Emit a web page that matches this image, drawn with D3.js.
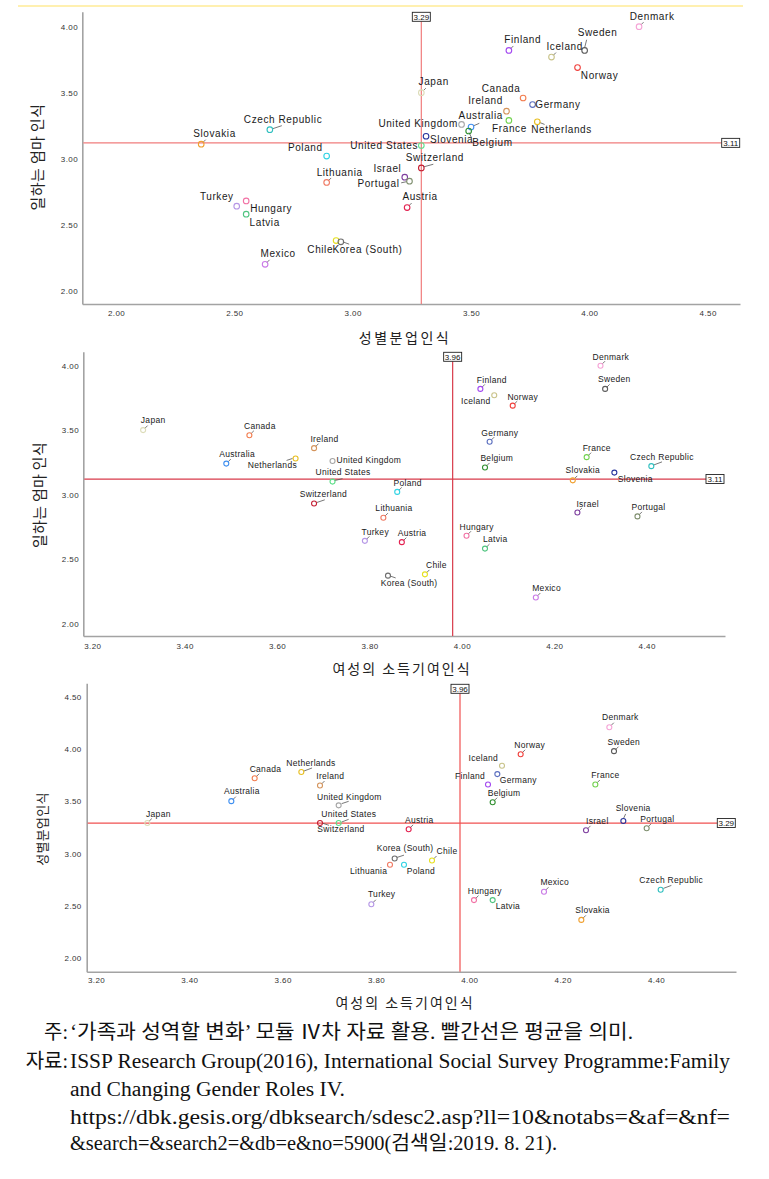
<!DOCTYPE html>
<html><head><meta charset="utf-8">
<script src="https://cdn.jsdelivr.net/npm/d3@7"></script>
<style>body{margin:0;background:#fff} svg{display:block}</style>
</head><body>
<svg id="c" width="769" height="1179"></svg>
<script>
// ---------------- DATA ----------------
const countries = ["Denmark","Sweden","Finland","Iceland","Norway","Japan","Canada","Germany","Ireland","France",
  "Netherlands","United Kingdom","Australia","Belgium","Slovenia","United States","Switzerland","Israel","Portugal","Austria",
  "Slovakia","Czech Republic","Poland","Lithuania","Turkey","Hungary","Latvia","Mexico","Chile","Korea (South)"];
// 성별분업인식
const genderDivision = [4.21,3.98,3.66,3.84,3.95,3.29,3.72,3.76,3.65,3.66,
  3.78,3.46,3.50,3.49,3.31,3.29,3.29,3.22,3.24,3.23,
  2.36,2.65,2.89,2.89,2.51,2.55,2.55,2.63,2.93,2.95];
// 일하는 엄마 인식
const workingMother = [4.00,3.82,3.82,3.77,3.69,3.50,3.46,3.41,3.36,3.29,
  3.28,3.26,3.24,3.21,3.17,3.10,2.93,2.86,2.83,2.63,
  3.11,3.22,3.02,2.82,2.64,2.68,2.58,2.20,2.38,2.37];
// 여성의 소득기여인식
const incomeContribution = [4.30,4.31,4.04,4.07,4.11,3.31,3.54,4.06,3.68,4.27,
  3.64,3.72,3.49,4.05,4.33,3.72,3.68,4.25,4.38,3.87,
  4.24,4.41,3.86,3.83,3.79,4.01,4.05,4.16,3.92,3.84];
const meanValues = {gender:3.29, mother:3.12, income:3.98};
const meanLabels = {gender:"3.29", mother:"3.11", income:"3.96"};
const ticksGenderX = [2.00,2.50,3.00,3.50,4.00,4.50];
const ticksMother = [2.00,2.50,3.00,3.50,4.00];
const ticksIncome = [3.20,3.40,3.60,3.80,4.00,4.20,4.40];
const ticksGenderY = [2.00,2.50,3.00,3.50,4.00,4.50];
const titles = {gender:"성별분업인식", mother:"일하는 엄마 인식", income:"여성의 소득기여인식"};
const noteLines = [
  "‘가족과 성역할 변화’ 모듈 Ⅳ차 자료 활용. 빨간선은 평균을 의미.",
  "ISSP Research Group(2016), International Social Survey Programme:Family",
  "and Changing Gender Roles IV.",
  "https://dbk.gesis.org/dbksearch/sdesc2.asp?ll=10&notabs=&af=&nf=",
  "&search=&search2=&db=e&no=5900(검색일:2019. 8. 21)."
];
const notePrefixes = ["주:", "자료:", "", "", ""];

// ---------------- STYLE ----------------
const countryColors = {
 "Denmark":"#f5a3d6","Sweden":"#5a5a5a","Finland":"#a348f0","Iceland":"#c9c38a","Norway":"#f0403c",
 "Japan":"#dcdcb8","Canada":"#f27d4f","Germany":"#5b6fbf","Ireland":"#d4935a","France":"#72d24f",
 "Netherlands":"#e8bf23","United Kingdom":"#a6a6a6","Australia":"#3f8ff0","Belgium":"#2f8f2f",
 "Slovenia":"#26339c","United States":"#5fe08a","Switzerland":"#c41f33","Israel":"#7e3f9f",
 "Portugal":"#7f8f6f","Austria":"#e3204f","Slovakia":"#f0a030","Czech Republic":"#2fbfbf",
 "Poland":"#2fd3e3","Lithuania":"#f07a63","Turkey":"#b596e6","Hungary":"#f272a5","Latvia":"#4fc47f",
 "Mexico":"#c97ae6","Chile":"#e6e01f","Korea (South)":"#6e6e6e"};

// label layout: [dx, dy, anchor, leader]
const L1 = {
 "Slovakia":[-8,-7,'s'],"Czech Republic":[-26,-7,'s',[3,-1,12,-4]],"Poland":[-4,-5,'e'],"Lithuania":[-10,-6.7,'s'],
 "Turkey":[-3,-6,'e'],"Hungary":[4,11.3,'s'],"Latvia":[3.4,11.4,'s'],"Mexico":[-4.6,-7.3,'s'],"Chile":[-3,12,'e'],
 "Korea (South)":[-8.4,11.3,'s',[2,0,8.3,2.3]],"Denmark":[-9.3,-6.7,'s'],"Sweden":[-7,-14,'s',[0,-2.7,2,-10.7]],
 "Finland":[-4.7,-7.3,'s'],"Iceland":[-5,-6.7,'s'],"Norway":[3.3,11.7,'s'],"Japan":[-2.7,-7.4,'s'],
 "Canada":[-2.7,-6,'e'],"Germany":[2.7,3.7,'s'],"Ireland":[-3.6,-6.7,'e'],"Australia":[-12.4,-7.7,'s',[2,-1,8.3,-3.7]],
 "France":[0.6,11.6,'m'],"Netherlands":[-6,11,'s',[2.3,0.7,7.3,2.7]],"United Kingdom":[-3.6,2.7,'e'],
 "Belgium":[3.7,15.4,'s',[0.3,1.4,3,7]],"Slovenia":[4,7,'s'],"United States":[-3.3,3.4,'e'],
 "Switzerland":[-15.6,-7,'s',[2,-1,12,-3.7]],"Israel":[-3.3,-5,'e'],"Portugal":[-10,6.3,'e',[-2.7,0.5,-8.3,1.7]],
 "Austria":[-4.7,-7.4,'s']};
const L2 = {
 "Japan":[-2.3,-6.7,'s'],"Canada":[-5.3,-6.3,'s'],"Ireland":[-3.6,-6.6,'s'],"Australia":[-7,-6.6,'s'],
 "Netherlands":[1.4,9.6,'e',[-3,0,-9,2]],"United Kingdom":[4,1.6,'s'],"United States":[-17,-6.3,'s',[2,-1,10,-3]],
 "Switzerland":[-14.3,-6.4,'s',[2.7,-1,10.7,-3.7]],"Lithuania":[-8,-6.3,'s'],"Turkey":[-3.4,-6.3,'s'],
 "Korea (South)":[-7.3,10,'s',[2,0.3,7.7,2.3]],"Denmark":[-8,-5.3,'s'],"Sweden":[-7,-6.6,'s'],"Finland":[-3.6,-6.3,'s'],
 "Iceland":[-3.7,8.3,'e'],"Norway":[-5.3,-6,'s'],"Germany":[-8.3,-5.7,'s'],"Belgium":[-4.6,-6.6,'s'],
 "France":[-4,-5.7,'s'],"Czech Republic":[-21.3,-6.3,'s',[2.7,-1.3,10.7,-4.3]],"Slovenia":[3.4,9.4,'s'],
 "Slovakia":[-7.3,-7.4,'s'],"Poland":[-3.7,-6,'s'],"Israel":[-1,-6,'s'],"Portugal":[-6,-6.7,'s'],
 "Austria":[-4,-6,'s'],"Hungary":[-7,-6,'s'],"Latvia":[-2,-6.6,'s'],"Chile":[1,-6.3,'s'],"Mexico":[-3.6,-6.3,'s']};
const L3 = {
 "Japan":[-1.3,-6,'s'],"Australia":[-7.4,-7.4,'s'],"Canada":[-5,-6.7,'s'],"Netherlands":[-15,-6.3,'s',[2.7,-1,10.7,-4]],
 "Ireland":[-3.7,-6.4,'s'],"United Kingdom":[-21.7,-5.7,'s',[3,-1.7,10,-4]],"United States":[-17.3,-6,'s',[3,-1,10,-3.7]],
 "Switzerland":[-2.7,9,'s',[3,0.3,9,2.3]],"Lithuania":[-2.7,9,'e'],"Turkey":[-3.4,-7.6,'s'],
 "Korea (South)":[-18,-7.3,'s',[2.3,-1,9.3,-3.3]],"Poland":[2.7,9.3,'s'],"Chile":[4.6,-6.4,'s'],"Austria":[-3.7,-6.6,'s'],
 "Denmark":[-7.3,-7,'s'],"Sweden":[-6.4,-6,'s'],"Norway":[-6.3,-6.7,'s'],"Iceland":[-4,-5,'e'],"Germany":[2.4,9.3,'s'],
 "Finland":[-3,-5.3,'e'],"Belgium":[-5,-6,'s'],"France":[-4,-6.4,'s'],"Slovenia":[-7.7,-10.3,'s',[0.3,-2.7,2.3,-7]],
 "Portugal":[-6.3,-6.3,'s'],"Israel":[0,-6.7,'s'],"Czech Republic":[-21.3,-6.3,'s',[2.7,-1.3,10.7,-4.3]],
 "Mexico":[-3.6,-6.7,'s'],"Hungary":[-6.3,-6.4,'s'],"Latvia":[3,8.6,'s'],"Slovakia":[-6,-6.7,'s']};

const series = {gender:genderDivision, mother:workingMother, income:incomeContribution};

const panels = [
 {xk:'gender', yk:'mother', xTicks:ticksGenderX, yTicks:ticksMother,
  xCal:[2.0,116,4.5,707.7], yCal:[4.0,26.7,2.0,290.7], plot:{l:82.3,r:740,t:11.7,b:304},
  font:10, ls:0.6, r:2.8, meanColor:'#f07c7c', vBoxTop:12.3, hBoxLeft:721.7,
  xTitle:[405,343,14,2.5], yTitle:[38,157,15,0.4], xTickY:313, yTickX:78, labels:L1},
 {xk:'income', yk:'mother', xTicks:ticksIncome, yTicks:ticksMother,
  xCal:[3.2,92.3,4.4,646.7], yCal:[4.0,365.7,2.0,623.3], plot:{l:83.3,r:725,t:351.7,b:636},
  font:8.5, ls:0.3, r:2.5, meanColor:'#d83a4a', vBoxTop:352.3, hBoxLeft:706,
  xTitle:[402,674,14,2],yTitle:[40,495,15,0.3], xTickY:646, yTickX:79, labels:L2},
 {xk:'income', yk:'gender', xTicks:ticksIncome, yTicks:ticksGenderY,
  xCal:[3.2,96,4.4,656], yCal:[4.5,697,2.0,957.4], plot:{l:86.7,r:736,t:683.3,b:971.7},
  font:8.5, ls:0.3, r:2.5, meanColor:'#f05050', vBoxTop:684.3, hBoxLeft:717.3,
  xTitle:[405,1008,14,2], yTitle:[42,829,13,0.3], xTickY:980, yTickX:81.7, labels:L3}
];

const svg = d3.select('#c');
const sans = '"Liberation Sans", Arial, sans-serif';
const kr = '"Noto Sans CJK KR", sans-serif';

// top yellow rule
svg.append('line').attr('x1',18).attr('x2',743).attr('y1',6).attr('y2',6)
  .attr('stroke','#fff0b0').attr('stroke-width',2);

panels.forEach(p => {
  const g = svg.append('g');
  const x = d3.scaleLinear().domain([p.xCal[0],p.xCal[2]]).range([p.xCal[1],p.xCal[3]]);
  x.domain([x.invert(p.plot.l), x.invert(p.plot.r)]).range([p.plot.l, p.plot.r]);
  const y = d3.scaleLinear().domain([p.yCal[0],p.yCal[2]]).range([p.yCal[1],p.yCal[3]]);
  y.domain([y.invert(p.plot.b), y.invert(p.plot.t)]).range([p.plot.b, p.plot.t]);

  const fmt = d3.format('.2f');
  const ax = g.append('g').attr('transform',`translate(0,${p.plot.b})`)
    .call(d3.axisBottom(x).tickValues(p.xTicks).tickSize(0).tickSizeOuter(0).tickFormat(fmt));
  ax.selectAll('text').attr('y', p.xTickY - p.plot.b).attr('dy','0.35em');
  const ay = g.append('g').attr('transform',`translate(${p.plot.l},0)`)
    .call(d3.axisLeft(y).tickValues(p.yTicks).tickSize(0).tickSizeOuter(0).tickFormat(fmt));
  ay.selectAll('text').attr('x', p.yTickX - p.plot.l).attr('dy','0.35em');
  [ax,ay].forEach(a => {
    a.select('.domain').attr('stroke','#a3a3a3').attr('stroke-width',1.6);
    a.selectAll('text').attr('font-family',sans).attr('font-size',8).attr('fill','#333')
      .style('letter-spacing','0.4px');
  });

  // mean lines
  const mx = x(meanValues[p.xk]), my = y(meanValues[p.yk]);
  const bw = 18, bh = 9;
  g.append('line').attr('x1',mx).attr('x2',mx).attr('y1',p.vBoxTop+bh).attr('y2',p.plot.b)
    .attr('stroke',p.meanColor).attr('stroke-width',1.2);
  g.append('line').attr('x1',p.plot.l+1).attr('x2',p.hBoxLeft).attr('y1',my).attr('y2',my)
    .attr('stroke',p.meanColor).attr('stroke-width',1.2);
  const boxes = [
    {bx:mx-bw/2, by:p.vBoxTop, t:meanLabels[p.xk]},
    {bx:p.hBoxLeft, by:my-bh/2, t:meanLabels[p.yk]}];
  boxes.forEach(b => {
    g.append('rect').attr('x',b.bx).attr('y',b.by).attr('width',bw).attr('height',bh)
      .attr('fill','#fff').attr('stroke','#222').attr('stroke-width',0.9);
    g.append('text').attr('x',b.bx+bw/2).attr('y',b.by+bh/2).attr('dy','0.36em')
      .attr('text-anchor','middle').attr('font-family',sans).attr('font-size',8).attr('fill','#111').text(b.t);
  });

  // points
  const pts = countries.map((c,i) => ({c, px:x(series[p.xk][i]), py:y(series[p.yk][i])}));
  // leaders
  pts.forEach(d => {
    const L = p.labels[d.c]; if (!L) return;
    let seg = L[3];
    if (!seg && L[2]==='s' && L[1] < -4) seg = [1.8,-1.8,4.5,-4.5];
    if (seg) g.append('line').attr('x1',d.px+seg[0]).attr('y1',d.py+seg[1])
      .attr('x2',d.px+seg[2]).attr('y2',d.py+seg[3]).attr('stroke','#555').attr('stroke-width',0.8);
  });
  g.selectAll('circle.pt').data(pts).enter().append('circle')
    .attr('cx',d=>d.px).attr('cy',d=>d.py).attr('r',p.r)
    .attr('fill','none').attr('stroke',d=>countryColors[d.c]).attr('stroke-width',1.1);
  g.selectAll('text.lbl').data(pts).enter().append('text')
    .attr('x',d=>d.px+p.labels[d.c][0]).attr('y',d=>d.py+p.labels[d.c][1])
    .attr('text-anchor',d=>({s:'start',m:'middle',e:'end'})[p.labels[d.c][2]])
    .attr('font-family',sans).attr('font-size',p.font).attr('fill','#1a1a1a')
    .style('letter-spacing',p.ls+'px').text(d=>d.c);

  // titles
  g.append('text').attr('x',p.xTitle[0]).attr('y',p.xTitle[1]).attr('text-anchor','middle')
    .attr('font-family',kr).attr('font-size',p.xTitle[2]).attr('fill','#222')
    .style('letter-spacing',p.xTitle[3]+'px').text(titles[p.xk]);
  g.append('text').attr('transform',`translate(${p.yTitle[0]},${p.yTitle[1]}) rotate(-90)`)
    .attr('text-anchor','middle').attr('dy','0.35em')
    .attr('font-family',kr).attr('font-size',p.yTitle[2]).attr('fill','#222')
    .style('letter-spacing',p.yTitle[3]+'px').text(titles[p.yk]);
});

// notes
const noteBase = [1039,1068,1096,1124,1150];
const noteEnd = [633,730,345,730,557];
const serif = '"Liberation Serif","Times New Roman","Noto Sans CJK KR",serif';
noteLines.forEach((t,i) => {
  if (notePrefixes[i]) svg.append('text').attr('x',68).attr('y',noteBase[i]).attr('text-anchor','end')
    .attr('font-family',serif).attr('font-size',20).attr('fill','#111').text(notePrefixes[i]);
  svg.append('text').attr('x',70).attr('y',noteBase[i]).attr('font-family',serif).attr('font-size',20)
    .attr('fill','#111').attr('textLength',noteEnd[i]-70).attr('lengthAdjust','spacingAndGlyphs').text(t);
});
</script>
</body></html>
